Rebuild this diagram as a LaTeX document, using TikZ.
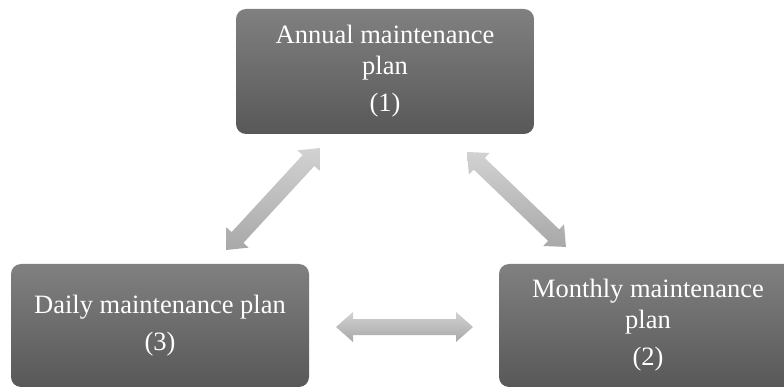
\documentclass[tikz,border=0pt]{standalone}
\usepackage{fontspec}
\setmainfont{Liberation Serif}
\usetikzlibrary{calc}
\definecolor{boxtop}{RGB}{128,128,128}
\definecolor{boxbot}{RGB}{88,88,88}
\definecolor{arrtop}{RGB}{210,210,210}
\definecolor{arrbot}{RGB}{168,168,168}
\tikzset{
  planbox/.style={rounded corners=10pt, top color=boxtop, bottom color=boxbot,
    draw=none, text=white, minimum width=298pt, align=center,
    font=\fontsize{26.5}{31}\selectfont, inner sep=0pt},
  blockarrow/.style={draw=none, top color=arrtop, bottom color=arrbot,
    to path={let \p1=(\tikztostart), \p2=(\tikztotarget),
      \n1={atan2(\y2-\y1,\x2-\x1)}, \n2={veclen(\x2-\x1,\y2-\y1)} in
      [shift={(\p1)}, rotate=\n1]
      (0pt,0pt) -- (17pt,15pt) -- (17pt,8pt) -- (\n2-17pt,8pt) -- (\n2-17pt,15pt)
      -- (\n2,0pt) -- (\n2-17pt,-15pt) -- (\n2-17pt,-8pt) -- (17pt,-8pt)
      -- (17pt,-15pt) -- cycle}}
}
\begin{document}
\begin{tikzpicture}[x=1pt,y=-1pt]
\useasboundingbox (0,0) rectangle (784,387);
\node[planbox, minimum height=125pt] (annual) at (385,71.5)
  {Annual maintenance\\ plan\\[6pt] (1)};
\node[planbox, minimum height=123pt] (daily) at (160,325.5)
  {Daily maintenance plan\\[6pt] (3)};
\node[planbox, minimum height=123pt] (monthly) at (648,325.5)
  {Monthly maintenance\\ plan\\[6pt] (2)};
\coordinate (a1) at (226,250);
\coordinate (a2) at (320,148);
\coordinate (b1) at (467,152);
\coordinate (b2) at (566,247);
\coordinate (c1) at (336,327);
\coordinate (c2) at (473,327);
\path[blockarrow] (a1) to (a2);
\path[blockarrow] (b1) to (b2);
\path[blockarrow] (c1) to (c2);
\end{tikzpicture}
\end{document}
